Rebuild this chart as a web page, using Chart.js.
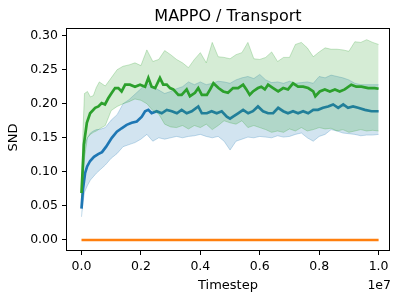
<!DOCTYPE html>
<html>
<head>
<meta charset="utf-8">
<script src="https://cdn.jsdelivr.net/npm/chart.js@4.4.1/dist/chart.umd.min.js"></script>
<style>
  html, body { margin: 0; padding: 0; background: #fff; }
  #wrap { width: 400px; height: 300px; }
</style>
</head>
<body>
<div id="wrap"><canvas id="sndChart" width="400" height="300"></canvas></div>
<script>
// timesteps for the shaded spread, in units of 1e7
const steps = [0, 0.005, 0.01, 0.02, 0.03, 0.04, 0.05, 0.06, 0.08, 0.10,
  0.12, 0.14, 0.16, 0.18, 0.20, 0.22, 0.24, 0.26, 0.28, 0.30,
  0.32, 0.34, 0.36, 0.38, 0.40, 0.42, 0.44, 0.46, 0.48, 0.50,
  0.52, 0.54, 0.56, 0.58, 0.60, 0.62, 0.64, 0.66, 0.68, 0.70,
  0.72, 0.74, 0.76, 0.78, 0.80, 0.82, 0.84, 0.86, 0.88, 0.90,
  0.92, 0.94, 0.96, 0.98, 1.00];

// blue run
const blueSteps = [0, 0.005, 0.012, 0.019, 0.029, 0.042, 0.056, 0.069, 0.083, 0.102,
  0.119, 0.135, 0.152, 0.169, 0.186, 0.203, 0.214, 0.225, 0.236, 0.253,
  0.270, 0.287, 0.304, 0.321, 0.337, 0.354, 0.371, 0.393, 0.405, 0.422,
  0.438, 0.455, 0.472, 0.489, 0.500, 0.510, 0.527, 0.544, 0.561, 0.577,
  0.594, 0.611, 0.628, 0.645, 0.662, 0.679, 0.695, 0.712, 0.729, 0.746,
  0.763, 0.780, 0.796, 0.813, 0.830, 0.847, 0.864, 0.881, 0.897, 0.914,
  0.931, 0.954, 0.976, 1.000];
const blueMean = [0.046, 0.075, 0.098, 0.108, 0.116, 0.122, 0.126, 0.129, 0.137, 0.150,
  0.159, 0.164, 0.169, 0.172, 0.174, 0.181, 0.189, 0.191, 0.186, 0.189,
  0.186, 0.191, 0.189, 0.186, 0.191, 0.186, 0.189, 0.196, 0.186, 0.186,
  0.189, 0.186, 0.189, 0.181, 0.178, 0.181, 0.186, 0.191, 0.186, 0.189,
  0.196, 0.189, 0.186, 0.186, 0.194, 0.189, 0.186, 0.189, 0.186, 0.189,
  0.186, 0.191, 0.191, 0.194, 0.196, 0.199, 0.194, 0.199, 0.194, 0.196,
  0.194, 0.191, 0.189, 0.189];
const blueHigh = [0.050, 0.090, 0.140, 0.150, 0.157, 0.160, 0.162, 0.162, 0.165, 0.176,
  0.184, 0.200, 0.206, 0.214, 0.222, 0.230, 0.225, 0.220, 0.215, 0.218,
  0.222, 0.225, 0.232, 0.228, 0.232, 0.228, 0.230, 0.233, 0.232, 0.230,
  0.235, 0.238, 0.240, 0.237, 0.243, 0.235, 0.231, 0.232, 0.230, 0.233,
  0.230, 0.231, 0.232, 0.230, 0.240, 0.238, 0.242, 0.240, 0.238, 0.235,
  0.230, 0.228, 0.228, 0.228, 0.228];
const blueLow = [0.034, 0.055, 0.070, 0.080, 0.088, 0.093, 0.098, 0.102, 0.110, 0.120,
  0.127, 0.137, 0.140, 0.143, 0.148, 0.155, 0.145, 0.150, 0.148, 0.150,
  0.152, 0.150, 0.152, 0.153, 0.155, 0.152, 0.150, 0.152, 0.145, 0.132,
  0.145, 0.148, 0.151, 0.150, 0.152, 0.151, 0.150, 0.153, 0.151, 0.152,
  0.155, 0.157, 0.150, 0.145, 0.152, 0.155, 0.162, 0.160, 0.157, 0.156,
  0.155, 0.153, 0.154, 0.154, 0.155];

// orange run sits at zero
const orangeMean = [0, 0, 0, 0, 0, 0, 0, 0, 0, 0,
  0, 0, 0, 0, 0, 0, 0, 0, 0, 0,
  0, 0, 0, 0, 0, 0, 0, 0, 0, 0,
  0, 0, 0, 0, 0, 0, 0, 0, 0, 0,
  0, 0, 0, 0, 0, 0, 0, 0, 0, 0,
  0, 0, 0, 0, 0];

// green run
const greenSteps = [0, 0.008, 0.018, 0.029, 0.046, 0.057, 0.068, 0.079, 0.090, 0.102,
  0.113, 0.124, 0.135, 0.147, 0.163, 0.180, 0.197, 0.214, 0.225, 0.236,
  0.248, 0.264, 0.275, 0.287, 0.298, 0.309, 0.326, 0.337, 0.354, 0.365,
  0.382, 0.393, 0.405, 0.422, 0.433, 0.444, 0.461, 0.477, 0.493, 0.510,
  0.527, 0.544, 0.555, 0.566, 0.577, 0.594, 0.605, 0.617, 0.628, 0.645,
  0.662, 0.679, 0.695, 0.712, 0.729, 0.746, 0.763, 0.780, 0.787, 0.802,
  0.819, 0.836, 0.853, 0.869, 0.886, 0.908, 0.925, 0.942, 0.965, 0.987,
  1.000];
const greenMean = [0.069, 0.140, 0.172, 0.186, 0.194, 0.196, 0.201, 0.199, 0.208, 0.216,
  0.223, 0.223, 0.218, 0.228, 0.228, 0.225, 0.228, 0.225, 0.238, 0.225,
  0.223, 0.238, 0.228, 0.228, 0.223, 0.221, 0.213, 0.213, 0.221, 0.211,
  0.216, 0.223, 0.213, 0.213, 0.221, 0.230, 0.223, 0.218, 0.216, 0.223,
  0.223, 0.228, 0.221, 0.213, 0.218, 0.223, 0.225, 0.221, 0.228, 0.223,
  0.218, 0.223, 0.221, 0.230, 0.225, 0.225, 0.223, 0.218, 0.211, 0.218,
  0.221, 0.218, 0.221, 0.218, 0.221, 0.228, 0.225, 0.225, 0.223, 0.223,
  0.222];
const greenHigh = [0.075, 0.160, 0.215, 0.218, 0.210, 0.212, 0.224, 0.232, 0.226, 0.238,
  0.250, 0.255, 0.257, 0.260, 0.256, 0.279, 0.262, 0.265, 0.278, 0.272,
  0.265, 0.260, 0.253, 0.265, 0.275, 0.260, 0.290, 0.269, 0.268, 0.266,
  0.272, 0.275, 0.290, 0.266, 0.265, 0.268, 0.276, 0.262, 0.268, 0.268,
  0.287, 0.290, 0.282, 0.269, 0.276, 0.282, 0.280, 0.280, 0.279, 0.277,
  0.291, 0.290, 0.294, 0.290, 0.287];
const greenLow = [0.062, 0.090, 0.120, 0.150, 0.155, 0.158, 0.160, 0.163, 0.168, 0.190,
  0.196, 0.200, 0.203, 0.207, 0.205, 0.200, 0.190, 0.185, 0.170, 0.166,
  0.165, 0.168, 0.163, 0.168, 0.165, 0.170, 0.162, 0.168, 0.175, 0.172,
  0.170, 0.175, 0.165, 0.168, 0.165, 0.162, 0.158, 0.160, 0.158, 0.163,
  0.160, 0.165, 0.160, 0.162, 0.165, 0.163, 0.164, 0.160, 0.162, 0.158,
  0.160, 0.162, 0.160, 0.161, 0.160];

const xTicks = [0, 0.2, 0.4, 0.6, 0.8, 1.0];
const yTicks = [0, 0.05, 0.10, 0.15, 0.20, 0.25, 0.30];

const BLUE = '#1f77b4';
const ORANGE = '#ff7f0e';
const GREEN = '#2ca02c';
const FONT = "'DejaVu Sans', sans-serif";

const pts = (xs, ys) => ys.map((y, i) => ({ x: xs[i], y: y }));

const lineSet = (label, xs, ys, color, order) => ({
  label: label,
  data: pts(xs, ys),
  borderColor: color,
  borderWidth: 2.7,
  pointRadius: 0,
  tension: 0,
  fill: false,
  order: order
});

// upper edge fills down to the next dataset (its lower edge)
const bandSet = (label, ys, rgb, fill, order) => ({
  label: label,
  data: pts(steps, ys),
  borderColor: 'rgba(' + rgb + ', 0.25)',
  backgroundColor: 'rgba(' + rgb + ', 0.2)',
  borderWidth: 1,
  pointRadius: 0,
  tension: 0,
  fill: fill,
  order: order
});

// frame + texts, placed like the matplotlib figure
const decorations = {
  id: 'decorations',
  afterDraw(chart) {
    const { ctx, chartArea: a } = chart;
    ctx.save();
    ctx.strokeStyle = '#000';
    ctx.lineWidth = 1;
    ctx.strokeRect(a.left - 0.5, a.top - 0.5, a.right - a.left + 1, a.bottom - a.top + 1);

    const cx = (a.left + a.right) / 2;
    ctx.fillStyle = '#000';
    ctx.textAlign = 'center';
    ctx.textBaseline = 'alphabetic';
    ctx.font = '16px ' + FONT;
    ctx.fillText('MAPPO / Transport', cx, 21);

    ctx.font = '13px ' + FONT;
    ctx.fillText('Timestep', cx, 289);

    ctx.font = '12.5px ' + FONT;
    ctx.textAlign = 'right';
    ctx.fillText('1e7', a.right + 2, 289);

    ctx.translate(17, (a.top + a.bottom) / 2 - 2);
    ctx.rotate(-Math.PI / 2);
    ctx.textAlign = 'center';
    ctx.font = '13px ' + FONT;
    ctx.fillText('SND', 0, 0);
    ctx.restore();
  }
};

new Chart(document.getElementById('sndChart').getContext('2d'), {
  type: 'line',
  data: {
    datasets: [
      lineSet('green', greenSteps, greenMean, GREEN, 0),
      bandSet('green high', greenHigh, '44, 160, 44', '+1', 1),
      bandSet('green low', greenLow, '44, 160, 44', false, 1),
      lineSet('orange', steps, orangeMean, ORANGE, 2),
      bandSet('blue high', blueHigh, '31, 119, 180', '+1', 3),
      bandSet('blue low', blueLow, '31, 119, 180', false, 3),
      lineSet('blue', blueSteps, blueMean, BLUE, 4)
    ]
  },
  options: {
    responsive: false,
    animation: false,
    events: [],
    layout: { padding: { top: 29, right: 11, left: 0, bottom: 0 } },
    plugins: {
      legend: { display: false },
      title: { display: false },
      tooltip: { enabled: false }
    },
    scales: {
      x: {
        type: 'linear',
        min: -0.0488,
        max: 1.035,
        afterBuildTicks: (s) => { s.ticks = xTicks.map(v => ({ value: v })); },
        afterFit: (s) => { s.height = 50; },
        border: { display: false },
        grid: { drawOnChartArea: false, drawTicks: true, tickLength: 5, tickColor: '#000', tickWidth: 1 },
        ticks: {
          color: '#000',
          padding: 4,
          maxRotation: 0,
          font: { family: FONT, size: 12.5 },
          callback: (v) => Number(v).toFixed(1)
        }
      },
      y: {
        type: 'linear',
        min: -0.0147,
        max: 0.3097,
        afterBuildTicks: (s) => { s.ticks = yTicks.map(v => ({ value: v })); },
        afterFit: (s) => { s.width = 67; },
        border: { display: false },
        grid: { drawOnChartArea: false, drawTicks: true, tickLength: 5, tickColor: '#000', tickWidth: 1 },
        ticks: {
          color: '#000',
          padding: 4,
          font: { family: FONT, size: 12.5 },
          callback: (v) => Number(v).toFixed(2)
        }
      }
    }
  },
  plugins: [decorations]
});
</script>
</body>
</html>
